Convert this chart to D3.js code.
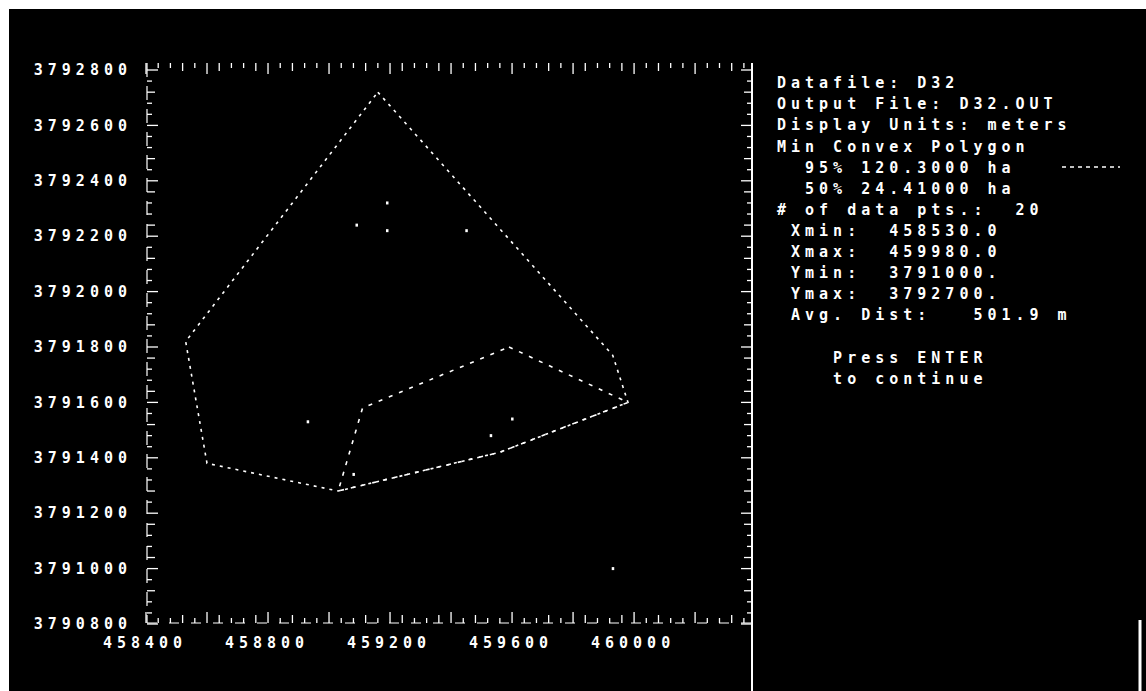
<!DOCTYPE html>
<html>
<head>
<meta charset="utf-8">
<script src="https://cdn.jsdelivr.net/npm/d3@7"></script>
<style>
  html, body { margin: 0; padding: 0; background: #fff; }
  svg { display: block; }
  text { font-family: "DejaVu Sans Mono", "Liberation Mono", monospace; font-size: 15px; font-weight: bold; fill: #fff; letter-spacing: 5px; white-space: pre; }
</style>
</head>
<body>
<div id="chart"></div>
<script>
// ---- data ----
// 95% minimum convex polygon (UTM easting / northing, m)
var hull95X = [459160, 459930, 459980, 459560, 459030, 458600, 458530];
var hull95Y = [3792720, 3791770, 3791600, 3791420, 3791280, 3791380, 3791820];
// 50% minimum convex polygon
var hull50X = [459590, 459980, 459560, 459030, 459110];
var hull50Y = [3791800, 3791600, 3791420, 3791280, 3791580];
// remaining locations
var ptX = [458930, 459600, 459530, 459080, 459190, 459090, 459190, 459450, 459930];
var ptY = [3791530, 3791540, 3791480, 3791340, 3792320, 3792240, 3792220, 3792220, 3791000];

var xTickVals = [458400, 458800, 459200, 459600, 460000];
var yTickVals = [3792800, 3792600, 3792400, 3792200, 3792000, 3791800, 3791600, 3791400, 3791200, 3791000, 3790800];

var infoLines = [
  "Datafile: D32",
  "Output File: D32.OUT",
  "Display Units: meters",
  "Min Convex Polygon",
  "  95% 120.3000 ha",
  "  50% 24.41000 ha",
  "# of data pts.:  20",
  " Xmin:  458530.0",
  " Xmax:  459980.0",
  " Ymin:  3791000.",
  " Ymax:  3792700.",
  " Avg. Dist:   501.9 m",
  "",
  "    Press ENTER",
  "    to continue"
];

var W = 1146, H = 691;
var svg = d3.select("#chart").append("svg").attr("width", W).attr("height", H);

// black screen with the scan's white margin
svg.append("rect").attr("x", 9).attr("y", 9).attr("width", W - 9).attr("height", H - 9).attr("fill", "#000");

var x = d3.scaleLinear().domain([458400, 460380]).range([146, 750]);
var y = d3.scaleLinear().domain([3790800, 3792800]).range([624, 70]);

var pLeft = 147, pRight = 752, pTop = 63, pBottom = 623;

// axis frame
svg.append("line").attr("x1", pLeft).attr("x2", pLeft).attr("y1", pTop).attr("y2", pBottom)
  .attr("stroke", "#fff").attr("stroke-width", 1.2).attr("stroke-dasharray", "14,9");
svg.append("line").attr("x1", pLeft).attr("x2", pRight).attr("y1", pBottom).attr("y2", pBottom)
  .attr("stroke", "#fff").attr("stroke-width", 1.2).attr("stroke-dasharray", "10,12");
svg.append("line").attr("x1", pRight).attr("x2", pRight).attr("y1", pTop).attr("y2", H)
  .attr("stroke", "#fff").attr("stroke-width", 2);
svg.append("line").attr("x1", 1140).attr("x2", 1140).attr("y1", 620).attr("y2", H)
  .attr("stroke", "#fff").attr("stroke-width", 3);

// minor ticks every 40 m
var xMinor = d3.range(458400, 460380, 40);
var yMinor = d3.range(3790800, 3792801, 40);
function tlen(i) { return i % 5 === 0 ? 11 : (i % 3 === 0 ? 8 : 5); }

svg.append("g").selectAll("line").data(xMinor).enter().append("line")
  .attr("x1", d => x(d)).attr("x2", d => x(d))
  .attr("y1", pTop).attr("y2", (d, i) => pTop + tlen(i))
  .attr("stroke", "#fff").attr("stroke-width", 1.3);
svg.append("g").selectAll("line").data(xMinor).enter().append("line")
  .attr("x1", d => x(d)).attr("x2", d => x(d))
  .attr("y1", pBottom).attr("y2", (d, i) => pBottom - tlen(i))
  .attr("stroke", "#fff").attr("stroke-width", 1.3);
svg.append("g").selectAll("line").data(yMinor).enter().append("line")
  .attr("x1", pLeft).attr("x2", (d, i) => pLeft + tlen(i))
  .attr("y1", d => y(d)).attr("y2", d => y(d))
  .attr("stroke", "#fff").attr("stroke-width", 1.3);
svg.append("g").selectAll("line").data(yMinor).enter().append("line")
  .attr("x1", pRight).attr("x2", (d, i) => pRight - tlen(i))
  .attr("y1", d => y(d)).attr("y2", d => y(d))
  .attr("stroke", "#fff").attr("stroke-width", 1.3);

// tick labels
svg.append("g").selectAll("text").data(yTickVals).enter().append("text")
  .attr("x", 132).attr("y", d => y(d)).attr("dy", "0.35em")
  .attr("text-anchor", "end").text(d => d);
svg.append("g").selectAll("text").data(xTickVals).enter().append("text")
  .attr("x", d => x(d) - 1).attr("y", 643).attr("dy", "0.35em")
  .attr("text-anchor", "middle").text(d => d);

// polygons
var line = d3.line().x(d => x(d[0])).y(d => y(d[1])).curve(d3.curveLinearClosed);
var poly95 = hull95X.map((v, i) => [v, hull95Y[i]]);
var poly50 = hull50X.map((v, i) => [v, hull50Y[i]]);
svg.append("path").attr("d", line(poly95)).attr("fill", "none")
  .attr("stroke", "#fff").attr("stroke-width", 1.6).attr("stroke-dasharray", "3,5");
svg.append("path").attr("d", line(poly50)).attr("fill", "none")
  .attr("stroke", "#fff").attr("stroke-width", 1.6).attr("stroke-dasharray", "4,7");

// single locations
svg.append("g").selectAll("rect").data(ptX).enter().append("rect")
  .attr("x", (d) => x(d) - 1).attr("y", (d, i) => y(ptY[i]) - 1.5)
  .attr("width", 2.5).attr("height", 3).attr("fill", "#fff");

// info panel
svg.append("g").selectAll("text").data(infoLines).enter().append("text")
  .attr("x", 777).attr("y", (d, i) => 83 + i * 21.1).attr("dy", "0.35em")
  .text(d => d);

// legend swatch for the 95% polygon
svg.append("line").attr("x1", 1062).attr("x2", 1120).attr("y1", 167).attr("y2", 167)
  .attr("stroke", "#fff").attr("stroke-width", 1.5).attr("stroke-dasharray", "4,4");
</script>
</body>
</html>
